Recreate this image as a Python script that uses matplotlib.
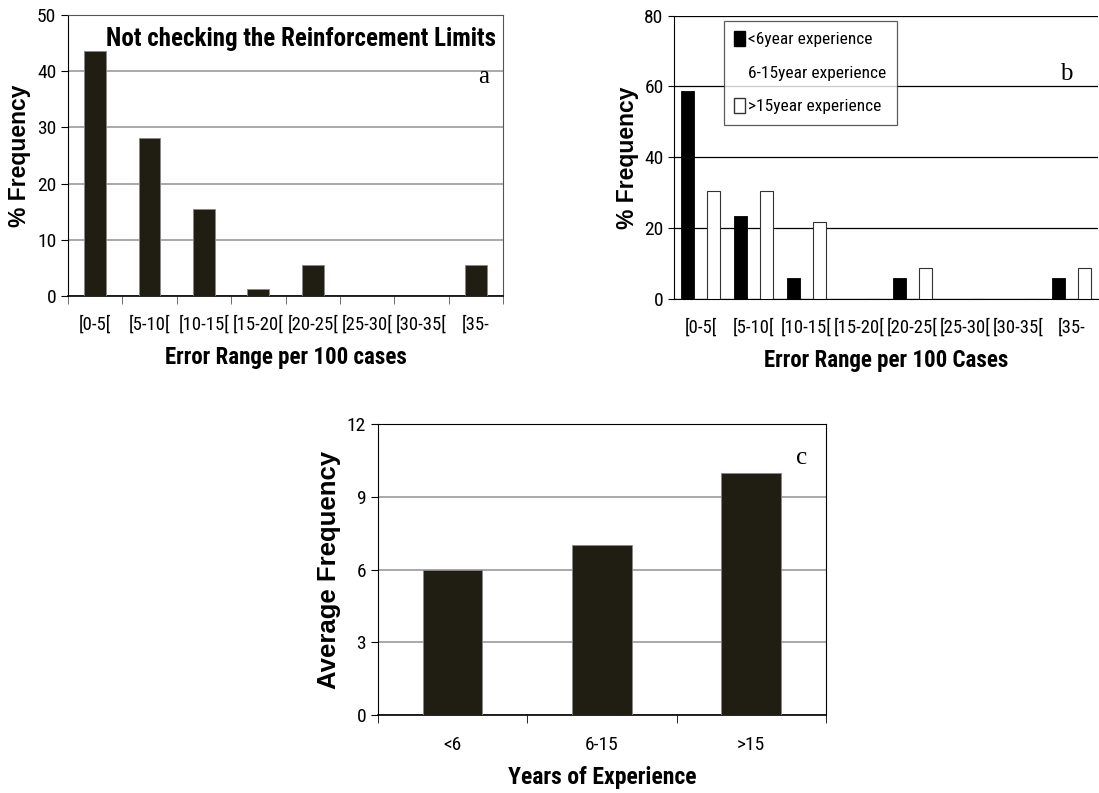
import numpy as np
import matplotlib.pyplot as plt
from matplotlib.patches import Patch

plt.rcParams['font.family'] = ['Roboto Condensed', 'DejaVu Sans']

# error ranges per 100 cases
ranges = ['[0-5[', '[5-10[', '[10-15[', '[15-20[', '[20-25[', '[25-30[', '[30-35[', '[35-']

# (a) all designers
freq_all = [43.6, 28.2, 15.5, 1.3, 5.6, 0, 0, 5.6]

# (b) split by experience
freq_lt6 = [58.8, 23.5, 5.9, 0, 5.9, 0, 0, 5.9]
freq_6_15 = [0, 0, 0, 0, 0, 0, 0, 0]
freq_gt15 = [30.4, 30.4, 21.7, 0, 8.7, 0, 0, 8.7]
legend_labels = ['<6year experience', '6-15year experience', '>15year experience']

# (c) average frequency by experience
exp_groups = ['<6', '6-15', '>15']
avg_freq = [6, 7, 10]

bar_dark = '#201d12'
tick_fs = 13.5
bold_wide = ['Liberation Sans', 'DejaVu Sans']
serif = ['Liberation Serif', 'DejaVu Serif']

fig = plt.figure(figsize=(10.99, 7.93), dpi=100)

# ---- panel a
ax = fig.add_axes([0.0619, 0.6267, 0.3958, 0.3544])
x = np.arange(len(ranges))
ax.bar(x, freq_all, width=0.4, color=bar_dark, edgecolor='#888888', linewidth=0.6, zorder=3)
ax.set_xlim(-0.5, len(ranges) - 0.5)
ax.set_ylim(0, 50)
ax.set_yticks(np.arange(0, 51, 10))
ax.set_xticks(x)
ax.set_xticklabels(ranges)
ax.set_xticks(np.arange(len(ranges) + 1) - 0.5, minor=True)
ax.tick_params(axis='x', which='major', length=0, pad=14, labelsize=tick_fs)
ax.tick_params(axis='x', which='minor', length=6, direction='out', color='#555555')
ax.tick_params(axis='y', length=5, direction='out', labelsize=tick_fs + 0.5)
ax.grid(axis='y', color='#9a9a9a', linewidth=1.2, zorder=0)
for s in ['top', 'right']:
    ax.spines[s].set_color('#555555')
ax.spines['left'].set_color('black')
ax.spines['bottom'].set_color('black')
ax.spines['bottom'].set_linewidth(1.2)
ax.set_ylabel('% Frequency', fontsize=16.5, fontweight='bold', family=bold_wide, labelpad=4)
ax.set_xlabel('Error Range per 100 cases', fontsize=16.5, fontweight='bold', labelpad=9)
ax.text(0.985, 0.915, 'Not checking the Reinforcement Limits', transform=ax.transAxes,
        ha='right', va='center', fontsize=18, fontweight='bold', zorder=5)
ax.text(0.955, 0.78, 'a', transform=ax.transAxes, ha='center', va='center',
        fontsize=18, family=serif, zorder=5)

# ---- panel b
ax = fig.add_axes([0.6133, 0.6230, 0.3858, 0.3573])
w = 0.245
ax.bar(x - w, freq_lt6, width=w, color='black', edgecolor='black', linewidth=0.6, zorder=3)
ax.bar(x, freq_6_15, width=w, color='none', linewidth=0, zorder=3)
ax.bar(x + w, freq_gt15, width=w, color='white', edgecolor='#333333', linewidth=0.8, zorder=3)
ax.set_xlim(-0.5, len(ranges) - 0.5)
ax.set_ylim(0, 80)
ax.set_yticks(np.arange(0, 81, 20))
ax.set_xticks(x)
ax.set_xticklabels(ranges)
ax.tick_params(axis='x', length=0, pad=14, labelsize=tick_fs)
ax.tick_params(axis='y', length=4, direction='out', labelsize=tick_fs + 0.5)
ax.grid(axis='y', color='black', linewidth=0.9, zorder=0)
ax.spines['right'].set_visible(False)
ax.spines['top'].set_visible(False)
ax.set_ylabel('% Frequency', fontsize=16.5, fontweight='bold', family=bold_wide, labelpad=4)
ax.set_xlabel('Error Range per 100 Cases', fontsize=16.5, fontweight='bold', labelpad=9)
ax.text(0.925, 0.795, 'b', transform=ax.transAxes, ha='center', va='center',
        fontsize=18, family=serif, zorder=5)
handles = [Patch(facecolor='black', edgecolor='black'),
           Patch(facecolor='none', edgecolor='none'),
           Patch(facecolor='white', edgecolor='#333333')]
leg = ax.legend(handles, legend_labels, loc='upper left', bbox_to_anchor=(0.118, 0.982),
                fontsize=12.5, frameon=True, fancybox=False, edgecolor='#333333',
                handlelength=0.6, handleheight=0.9, handletextpad=0.2,
                labelspacing=1.0, borderpad=0.6, borderaxespad=0)
leg.get_frame().set_linewidth(0.9)
leg.set_zorder(6)

# ---- panel c
ax = fig.add_axes([0.3439, 0.0984, 0.4076, 0.3666])
xc = np.arange(len(exp_groups))
ax.bar(xc, avg_freq, width=0.4, color=bar_dark, edgecolor='#888888', linewidth=0.6, zorder=3)
ax.set_xlim(-0.5, len(exp_groups) - 0.5)
ax.set_ylim(0, 12)
ax.set_yticks(np.arange(0, 13, 3))
ax.set_xticks(xc)
ax.set_xticklabels(exp_groups)
ax.set_xticks(np.arange(len(exp_groups) + 1) - 0.5, minor=True)
ax.tick_params(axis='x', which='major', length=0, pad=15, labelsize=tick_fs + 0.5)
ax.tick_params(axis='x', which='minor', length=6, direction='out')
ax.tick_params(axis='y', length=5, direction='out', labelsize=tick_fs + 0.5)
ax.grid(axis='y', color='#9a9a9a', linewidth=1.2, zorder=0)
ax.spines['bottom'].set_linewidth(1.2)
ax.set_ylabel('Average Frequency', fontsize=18.5, fontweight='bold', family=bold_wide, labelpad=4)
ax.set_xlabel('Years of Experience', fontsize=17, fontweight='bold', labelpad=9)
ax.text(0.946, 0.884, 'c', transform=ax.transAxes, ha='center', va='center',
        fontsize=18, family=serif, zorder=5)

fig.savefig('out.png', dpi=100)
